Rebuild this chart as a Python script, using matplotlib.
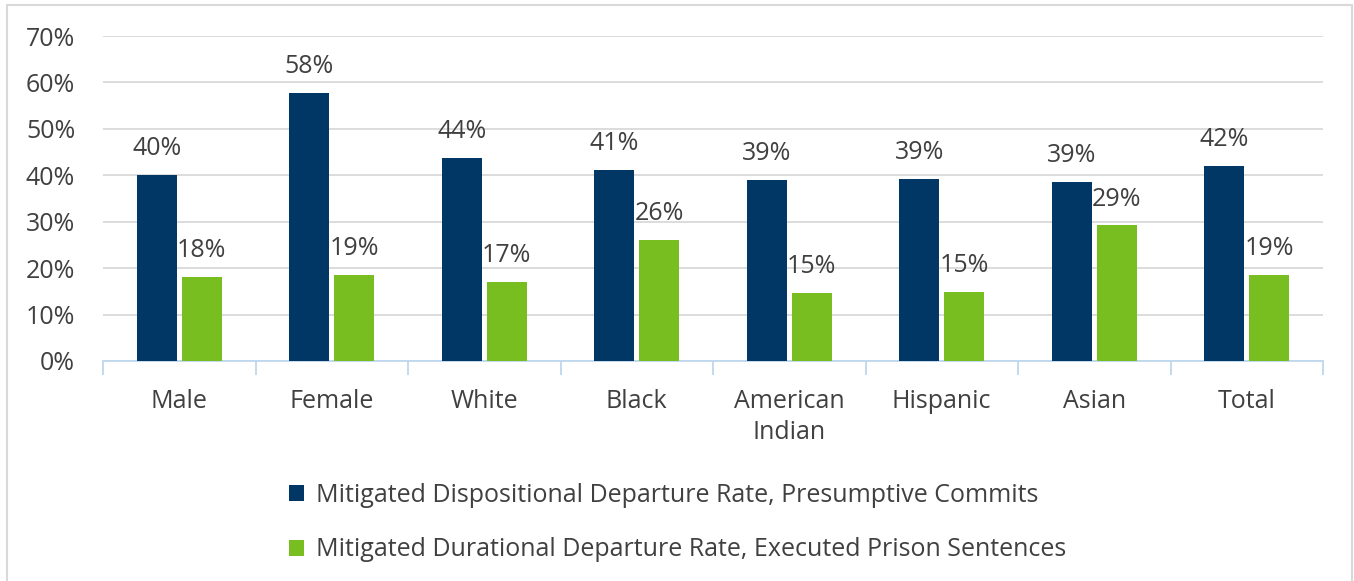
import matplotlib
matplotlib.use("Agg")
import matplotlib.pyplot as plt
from matplotlib.patches import Rectangle
import numpy as np

categories = ["Male", "Female", "White", "Black", "American\nIndian", "Hispanic", "Asian", "Total"]
dispositional = [40.1, 57.7, 43.7, 41.1, 39.0, 39.3, 38.6, 42.0]
durational = [18.2, 18.6, 17.0, 26.1, 14.7, 14.8, 29.2, 18.6]
series_names = [
    "Mitigated Dispositional Departure Rate, Presumptive Commits",
    "Mitigated Durational Departure Rate, Executed Prison Sentences",
]
y_ticks = [0, 10, 20, 30, 40, 50, 60, 70]

navy = "#003764"
green = "#78be20"
text_color = "#404040"
plt.rcParams["font.family"] = ["Open Sans", "DejaVu Sans"]
fs = 18

fig = plt.figure(figsize=(13.54, 5.81), dpi=100)
W, H = 1354, 581
ax = fig.add_axes([103 / W, 1 - 361 / H, (1323 - 103) / W, (361 - 36) / H])

x = np.arange(len(categories))
bar_w = 0.262
off = 0.148
b1 = ax.bar(x - off, dispositional, bar_w, color=navy, label=series_names[0], zorder=3)
b2 = ax.bar(x + off, durational, bar_w, color=green, label=series_names[1], zorder=3)

for bars, vals in [(b1, dispositional), (b2, durational)]:
    for rect, v in zip(bars, vals):
        ax.annotate(f"{v:.0f}%", (rect.get_x() + rect.get_width() / 2, v),
                    xytext=(0, 10), textcoords="offset points", ha="center", va="bottom",
                    fontsize=fs, color=text_color)

ax.set_xlim(-0.5, len(categories) - 0.5)
ax.set_ylim(0, 70)
ax.set_yticks(y_ticks)
ax.set_yticklabels([f"{t}%" for t in y_ticks], fontsize=fs, color=text_color)
ax.yaxis.grid(True, color="#d9d9d9", linewidth=1.3, zorder=0)
ax.tick_params(axis="y", length=0, pad=20)

ax.set_xticks(x)
ax.set_xticklabels(categories, fontsize=fs, color=text_color, linespacing=1.35)
ax.tick_params(axis="x", length=0, pad=20)
ax.set_xticks(np.arange(-0.5, len(categories)), minor=True)
ax.tick_params(axis="x", which="minor", length=10, color="#bdd7ee", width=1.3)

for s in ["left", "right", "top"]:
    ax.spines[s].set_visible(False)
ax.spines["bottom"].set_color("#bdd7ee")
ax.spines["bottom"].set_linewidth(1.3)

fig.legend(handles=[b1, b2], loc="upper left", bbox_to_anchor=(266 / W, 1 - 460 / H),
           frameon=False, fontsize=fs, labelcolor=text_color, handlelength=0.6,
           handleheight=0.6, handletextpad=0.5, labelspacing=1.2)

fig.patches.append(Rectangle((7 / W, -0.05), (1352 - 7) / W, 1 - 5 / H + 0.05,
                             transform=fig.transFigure, fill=False,
                             edgecolor="#d9d9d9", linewidth=1.5))

fig.savefig("out.png", dpi=100)
